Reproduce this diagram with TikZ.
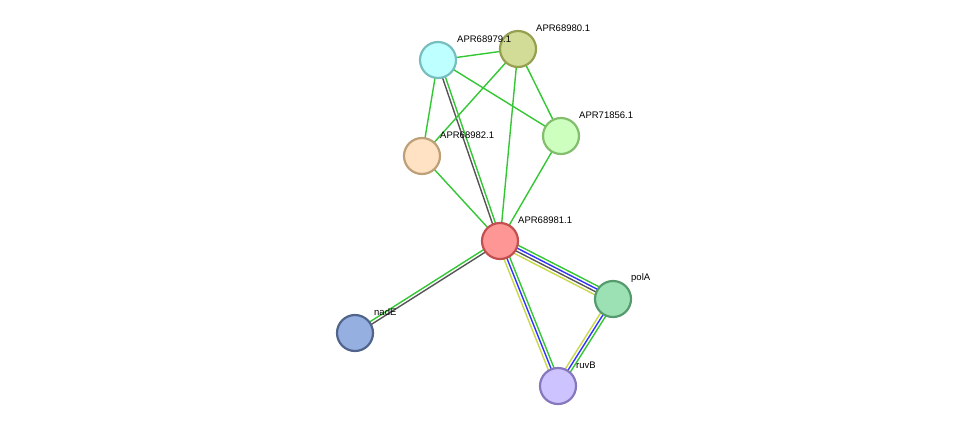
\documentclass[tikz,border=0pt]{standalone}
\usepackage{fontspec}
\setmainfont{Liberation Sans}
\usetikzlibrary{calc}
\tikzset{x=1pt,y=-1pt,
 prot/.style={circle,minimum size=36pt,inner sep=0pt,line width=2.2pt},
 lbl/.style={anchor=west,font=\fontsize{9.5}{11}\selectfont,inner sep=0pt},
 ln/.style={line width=1.4pt}}
\definecolor{eg}{HTML}{33C733}
\definecolor{eb}{HTML}{3333FF}
\definecolor{ek}{HTML}{555555}
\definecolor{ey}{HTML}{C8D84A}
\newcommand{\medge}[3]{\foreach \o/\c in {#3}{\draw[ln,\c] ($(#1)!\o pt!90:(#2)$) -- ($(#2)!\o pt!-90:(#1)$);}}
\begin{document}
\begin{tikzpicture}
\useasboundingbox (0,0) rectangle (976,432);
\coordinate (a79) at (438,60);
\coordinate (a80) at (518,49);
\coordinate (a56) at (561,136);
\coordinate (a82) at (422,156);
\coordinate (a81) at (500,241);
\coordinate (pol) at (613,299);
\coordinate (nad) at (355,333);
\coordinate (ruv) at (558,386);
\medge{a79}{a80}{0/eg}
\medge{a79}{a82}{0/eg}
\medge{a79}{a56}{0/eg}
\medge{a79}{a81}{-1.5/ek,1.5/eg}
\medge{a80}{a82}{0/eg}
\medge{a80}{a56}{0/eg}
\medge{a80}{a81}{0/eg}
\medge{a56}{a81}{0/eg}
\medge{a82}{a81}{0/eg}
\medge{a81}{nad}{-1.5/eg,1.5/ek}
\medge{a81}{pol}{4.5/eg,1.5/eb,-1.5/ek,-4.5/ey}
\medge{a81}{ruv}{3/eg,0/eb,-3/ey}
\medge{pol}{ruv}{3/eg,0/eb,-3/ey}
\node[prot,draw={rgb,255:red,120;green,190;blue,190},fill={rgb,255:red,190;green,255;blue,255}] (n79) at (a79) {};
\node[prot,draw={rgb,255:red,150;green,160;blue,80},fill={rgb,255:red,210;green,220;blue,150}] (n80) at (a80) {};
\node[prot,draw={rgb,255:red,130;green,190;blue,110},fill={rgb,255:red,205;green,255;blue,190}] (n56) at (a56) {};
\node[prot,draw={rgb,255:red,190;green,160;blue,120},fill={rgb,255:red,255;green,225;blue,195}] (n82) at (a82) {};
\node[prot,draw={rgb,255:red,195;green,80;blue,80},fill={rgb,255:red,255;green,150;blue,150}] (n81) at (a81) {};
\node[prot,draw={rgb,255:red,85;green,155;blue,110},fill={rgb,255:red,155;green,225;blue,180}] (npol) at (pol) {};
\node[prot,draw={rgb,255:red,80;green,100;blue,140},fill={rgb,255:red,150;green,175;blue,225}] (nnad) at (nad) {};
\node[prot,draw={rgb,255:red,135;green,120;blue,190},fill={rgb,255:red,205;green,195;blue,255}] (nruv) at (ruv) {};
\node[lbl] at (457,39) {APR68979.1};
\node[lbl] at (536,28) {APR68980.1};
\node[lbl] at (579,115) {APR71856.1};
\node[lbl] at (440,135) {APR68982.1};
\node[lbl] at (518,220) {APR68981.1};
\node[lbl] at (631,278) {polA};
\node[lbl] at (374,312) {nadE};
\node[lbl] at (576,365) {ruvB};
\end{tikzpicture}
\end{document}
